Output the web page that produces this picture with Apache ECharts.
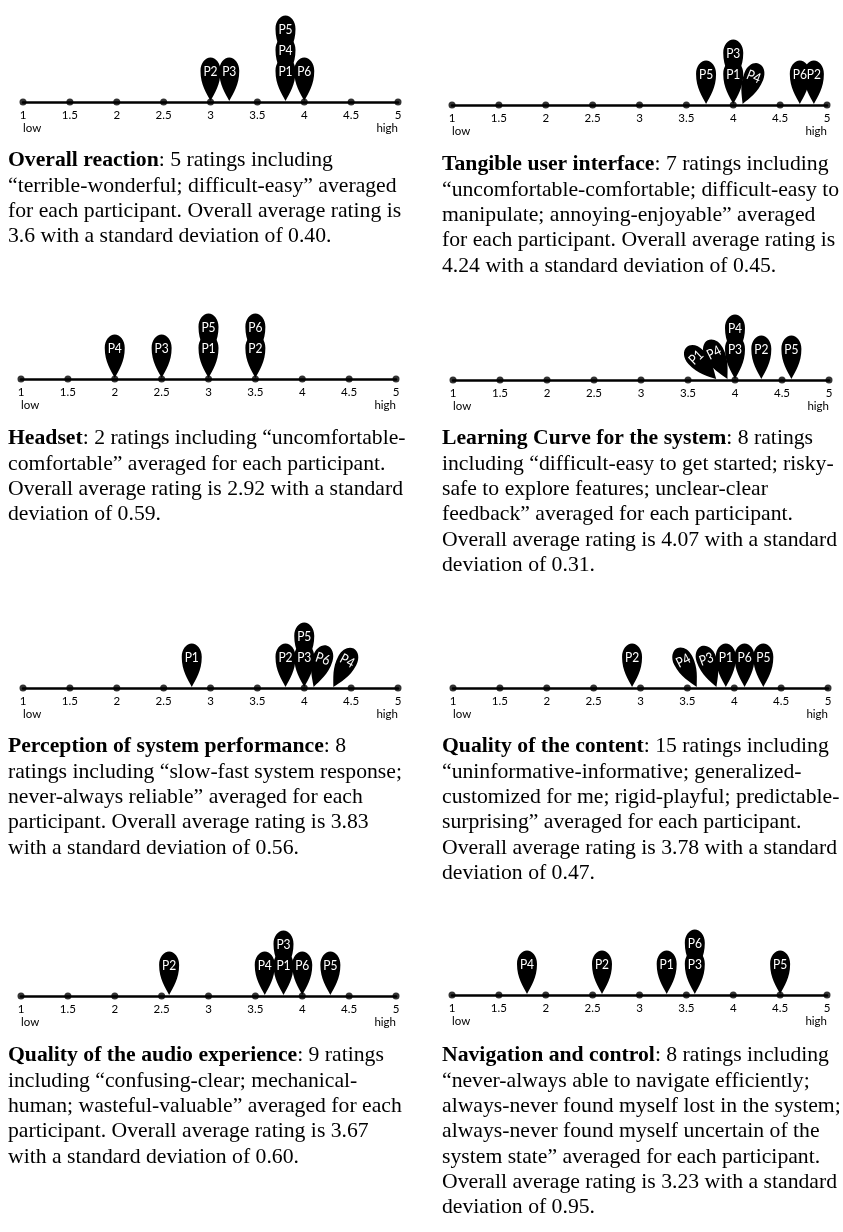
<!DOCTYPE html>
<html>
<head>
<meta charset="utf-8">
<script src="https://cdn.jsdelivr.net/npm/echarts@6.0.0/dist/echarts.min.js"></script>
<style>
html, body { margin: 0; padding: 0; background: #fff; }
#main { width: 843px; height: 1232px; }
</style>
</head>
<body>
<div id="main"></div>
<script>
// axis ticks shared by every scale
const ticks = [1, 1.5, 2, 2.5, 3, 3.5, 4, 4.5, 5];
const tickLabels = ['1', '1.5', '2', '2.5', '3', '3.5', '4', '4.5', '5'];
const endLabels = ['low', 'high'];

// participant averages, one pair of arrays per panel
const overallLabels = ['P2', 'P3', 'P1', 'P4', 'P5', 'P6'];
const overallValues = [3.0, 3.2, 3.8, 3.8, 3.8, 4.0];

const tangibleLabels = ['P5', 'P1', 'P3', 'P4', 'P6', 'P2'];
const tangibleValues = [3.71, 4.0, 4.0, 4.1, 4.71, 4.86];

const headsetLabels = ['P4', 'P3', 'P1', 'P5', 'P2', 'P6'];
const headsetValues = [2.0, 2.5, 3.0, 3.0, 3.5, 3.5];

const learningLabels = ['P1', 'P4', 'P3', 'P4', 'P2', 'P5'];
const learningValues = [3.8, 3.92, 4.0, 4.0, 4.28, 4.6];

const perceptionLabels = ['P1', 'P2', 'P3', 'P5', 'P6', 'P4'];
const perceptionValues = [2.8, 3.8, 4.0, 4.0, 4.1, 4.31];

const contentLabels = ['P2', 'P4', 'P3', 'P1', 'P6', 'P5'];
const contentValues = [2.91, 3.6, 3.81, 3.91, 4.11, 4.31];

const audioLabels = ['P2', 'P4', 'P1', 'P3', 'P6', 'P5'];
const audioValues = [2.58, 3.6, 3.8, 3.8, 4.0, 4.3];

const navLabels = ['P4', 'P2', 'P1', 'P3', 'P6', 'P5'];
const navValues = [1.8, 2.6, 3.29, 3.59, 3.59, 4.5];

// captions
const overallCaption = [
  '{b|Overall reaction}: 5 ratings including',
  '“terrible-wonderful; difficult-easy” averaged',
  'for each participant. Overall average rating is',
  '3.6 with a standard deviation of 0.40.'
];
const tangibleCaption = [
  '{b|Tangible user interface}: 7 ratings including',
  '“uncomfortable-comfortable; difficult-easy to',
  'manipulate; annoying-enjoyable” averaged',
  'for each participant. Overall average rating is',
  '4.24 with a standard deviation of 0.45.'
];
const headsetCaption = [
  '{b|Headset}: 2 ratings including “uncomfortable-',
  'comfortable” averaged for each participant.',
  'Overall average rating is 2.92 with a standard',
  'deviation of 0.59.'
];
const learningCaption = [
  '{b|Learning Curve for the system}: 8 ratings',
  'including “difficult-easy to get started; risky-',
  'safe to explore features; unclear-clear',
  'feedback” averaged for each participant.',
  'Overall average rating is 4.07 with a standard',
  'deviation of 0.31.'
];
const perceptionCaption = [
  '{b|Perception of system performance}: 8',
  'ratings including “slow-fast system response;',
  'never-always reliable” averaged for each',
  'participant. Overall average rating is 3.83',
  'with a standard deviation of 0.56.'
];
const contentCaption = [
  '{b|Quality of the content}: 15 ratings including',
  '“uninformative-informative; generalized-',
  'customized for me; rigid-playful; predictable-',
  'surprising” averaged for each participant.',
  'Overall average rating is 3.78 with a standard',
  'deviation of 0.47.'
];
const audioCaption = [
  '{b|Quality of the audio experience}: 9 ratings',
  'including “confusing-clear; mechanical-',
  'human; wasteful-valuable” averaged for each',
  'participant. Overall average rating is 3.67',
  'with a standard deviation of 0.60.'
];
const navCaption = [
  '{b|Navigation and control}: 8 ratings including',
  '“never-always able to navigate efficiently;',
  'always-never found myself lost in the system;',
  'always-never found myself uncertain of the',
  'system state” averaged for each participant.',
  'Overall average rating is 3.23 with a standard',
  'deviation of 0.95.'
];

// leaning pins (degrees, positive = head leans left)
const tilts = {
  tangible: [0, 0, 0, -22, 0, 0],
  learning: [43, 27, 0, 0, 0, 0],
  perception: [0, 0, 0, 0, -18, -28],
  content: [0, 27, 20, 0, 0, 0]
};

// layout: axis line left/right x and y for each panel
const panels = [
  { labels: overallLabels, values: overallValues, caption: overallCaption, x1: 23, x2: 398, y: 102, capTop: 148, capLeft: 8 },
  { labels: tangibleLabels, values: tangibleValues, caption: tangibleCaption, tilt: tilts.tangible, x1: 452, x2: 827, y: 105, capTop: 152, capLeft: 442 },
  { labels: headsetLabels, values: headsetValues, caption: headsetCaption, x1: 21, x2: 396, y: 379, capTop: 426, capLeft: 8 },
  { labels: learningLabels, values: learningValues, caption: learningCaption, tilt: tilts.learning, x1: 453, x2: 829, y: 380, capTop: 426, capLeft: 442 },
  { labels: perceptionLabels, values: perceptionValues, caption: perceptionCaption, tilt: tilts.perception, x1: 23, x2: 398, y: 688, capTop: 734, capLeft: 8 },
  { labels: contentLabels, values: contentValues, caption: contentCaption, tilt: tilts.content, x1: 453, x2: 828, y: 688, capTop: 734, capLeft: 442 },
  { labels: audioLabels, values: audioValues, caption: audioCaption, x1: 21, x2: 396, y: 996, capTop: 1043, capLeft: 8 },
  { labels: navLabels, values: navValues, caption: navCaption, x1: 452, x2: 827, y: 995, capTop: 1043, capLeft: 442 }
];

const PIN_PATH = 'M0 0 C-4 -8 -10 -16 -10 -30 C-10 -38 -5.2 -43.5 0 -43.5 C5.2 -43.5 10 -38 10 -30 C10 -16 4 -8 0 0 Z';
const STACK_STEP = 21;
const serif = 'Liberation Serif';
const sans = 'Lato';

function stackLevels(values, tilt) {
  return values.map((v, i) => {
    if (tilt && tilt[i]) return 0;
    let n = 0;
    for (let j = 0; j < i; j++) {
      if (values[j] === v && !(tilt && tilt[j])) n++;
    }
    return n;
  });
}

function pinRenderer(labels, tilt, stacks) {
  return function (params, api) {
    const i = params.dataIndex;
    const p = api.coord([api.value(0), 0]);
    return {
      type: 'group',
      x: p[0],
      y: p[1] - 1 - stacks[i] * STACK_STEP,
      rotation: ((tilt && tilt[i]) || 0) * Math.PI / 180,
      children: [
        {
          type: 'path',
          z2: 1,
          shape: { pathData: PIN_PATH, x: -10, y: -43.5, width: 20, height: 43.5, layout: 'cover' },
          style: { fill: '#000' }
        },
        {
          type: 'text',
          z2: 10,
          x: 0,
          y: -29.5,
          scaleX: 0.86,
          style: {
            text: labels[i], fill: '#fff', font: '14px ' + sans,
            align: 'center', verticalAlign: 'middle'
          }
        }
      ]
    };
  };
}

const grid = [], xAxis = [], yAxis = [], series = [], title = [];

panels.forEach((pn, k) => {
  grid.push({ left: pn.x1, width: pn.x2 - pn.x1, top: pn.y - 60, height: 60 });
  yAxis.push({ type: 'value', gridIndex: k, min: 0, max: 1, show: false });
  xAxis.push({
    type: 'value', gridIndex: k, position: 'bottom', min: 1, max: 5, interval: 0.5,
    axisLine: { show: true, lineStyle: { color: '#000', width: 2.5 } },
    axisTick: { show: false },
    splitLine: { show: false },
    axisLabel: {
      margin: 7, color: '#000', fontFamily: sans, fontSize: 11.5,
      showMinLabel: true, showMaxLabel: true,
      formatter: v => tickLabels[ticks.indexOf(v)] || ''
    }
  });
  xAxis.push({
    type: 'value', gridIndex: k, position: 'bottom', min: 1, max: 5, interval: 0.5,
    axisLine: { show: false }, axisTick: { show: false }, splitLine: { show: false },
    axisLabel: {
      margin: 20, color: '#000', fontFamily: sans, fontSize: 11.5,
      showMinLabel: true, showMaxLabel: true,
      alignMinLabel: 'left', alignMaxLabel: 'right',
      formatter: v => v === 1 ? endLabels[0] : (v === 5 ? endLabels[1] : '')
    }
  });
  series.push({
    type: 'scatter', xAxisIndex: 2 * k, yAxisIndex: k, silent: true, clip: false,
    symbol: 'circle', symbolSize: 7, itemStyle: { color: '#000' },
    data: ticks.map(t => [t, 0]), z: 2
  });
  const stacks = stackLevels(pn.values, pn.tilt);
  series.push({
    type: 'custom', xAxisIndex: 2 * k, yAxisIndex: k, silent: true, z: 3,
    renderItem: pinRenderer(pn.labels, pn.tilt, stacks),
    data: pn.values.map(v => [v, 0])
  });
  title.push({
    left: pn.capLeft, top: pn.capTop, padding: 0,
    text: pn.caption.join('\n'),
    textStyle: {
      fontFamily: serif, fontSize: 21.7, fontWeight: 'normal', color: '#000', lineHeight: 25.3,
      rich: { b: { fontFamily: serif, fontSize: 21.7, fontWeight: 'bold', color: '#000', lineHeight: 25.3 } }
    }
  });
});

const chart = echarts.init(document.getElementById('main'));
chart.setOption({
  backgroundColor: '#fff',
  animation: false,
  title: title,
  grid: grid,
  xAxis: xAxis,
  yAxis: yAxis,
  series: series
});
</script>
</body>
</html>
